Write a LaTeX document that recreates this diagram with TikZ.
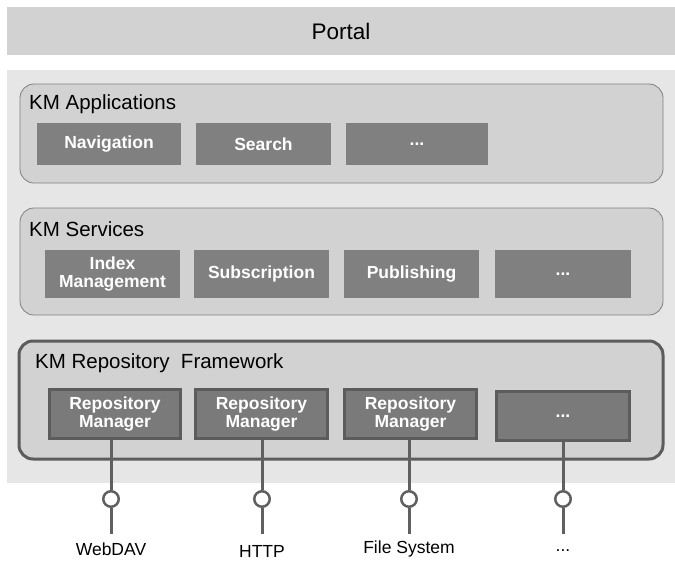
\documentclass[tikz,border=0pt]{standalone}
\usepackage{fontspec}
\setmainfont{Liberation Sans}
\setsansfont{Liberation Sans}
\usetikzlibrary{shapes.geometric}
\definecolor{portalgray}{HTML}{D2D2D2}
\definecolor{panelgray}{HTML}{E6E6E6}
\definecolor{layergray}{HTML}{D2D2D2}
\definecolor{layerline}{HTML}{808080}
\definecolor{boxgray}{HTML}{808080}
\definecolor{rmgray}{HTML}{7A7A7A}
\definecolor{rmline}{HTML}{5C5C5C}
\definecolor{wire}{HTML}{606060}
\tikzset{
  layer/.style={draw=layerline, fill=layergray, line width=0.8pt, rounded corners=14pt},
  framelayer/.style={draw=rmline, fill=layergray, line width=3pt, rounded corners=14pt},
  layertitle/.style={anchor=west, font=\fontsize{20.5}{23}\selectfont, inner sep=0pt},
  compbox/.style={fill=boxgray, text=white, font=\bfseries\fontsize{17.5}{18.5}\selectfont,
    align=center, inner sep=0pt, minimum height=42pt},
  rmbox/.style={fill=rmgray, draw=rmline, line width=3pt, text=white,
    font=\bfseries\fontsize{17.5}{18}\selectfont, align=center, inner sep=0pt,
    minimum height=49pt},
  socket/.style={ellipse, draw=wire, fill=white, line width=2.5pt, minimum width=15.5pt,
    minimum height=15.5pt, inner sep=0pt},
  wireline/.style={draw=wire, line width=3pt},
  protolabel/.style={font=\fontsize{17.5}{19}\selectfont, inner sep=0pt}
}
\begin{document}
\begin{tikzpicture}[x=1pt,y=-1pt]
\useasboundingbox (0,0) rectangle (675,560);
\fill[white] (0,0) rectangle (675,560);

% portal bar and container panel
\node[fill=portalgray, minimum width=668pt, minimum height=48pt, inner sep=0pt,
  font=\fontsize{22.5}{24}\selectfont] (portal) at (341,31) {Portal};
\fill[panelgray] (7,70) rectangle (675,483);

% KM Applications layer
\draw[layer] (20,84) rectangle (663,183);
\node[layertitle] (apptitle) at (29,104) {KM Applications};
\node[compbox, minimum width=144pt] (nav) at (109,144) {Navigation};
\node[compbox, minimum width=135pt] (search) at (263.5,144) {Search};
\node[compbox, minimum width=142pt] (appmore) at (417,144) {...};

% KM Services layer
\draw[layer] (20,208) rectangle (663,315);
\node[layertitle] (svctitle) at (29,229) {KM Services};
\node[compbox, minimum width=135pt, minimum height=48pt] (index) at (112.5,274) {Index\\[-1pt]Management};
\node[compbox, minimum width=135pt, minimum height=48pt] (subs) at (261.5,274) {Subscription};
\node[compbox, minimum width=135pt, minimum height=48pt] (pub) at (411.5,274) {Publishing};
\node[compbox, minimum width=136pt, minimum height=48pt] (svcmore) at (563,274) {...};

% KM Repository Framework layer
\draw[framelayer] (19,341) rectangle (663,459);
\node[layertitle] (reptitle) at (35,363) {KM Repository\ \ Framework};
\node[rmbox, minimum width=131pt] (rm1) at (115,414) {Repository\\Manager};
\node[rmbox, minimum width=132pt] (rm2) at (261.5,414) {Repository\\Manager};
\node[rmbox, minimum width=132pt] (rm3) at (410.5,414) {Repository\\Manager};
\node[rmbox, minimum width=133pt] (rm4) at (563,416) {...};

% protocol sockets
\node[socket] (s1) at (111,499) {};
\node[socket] (s2) at (262,499) {};
\node[socket] (s3) at (409,499) {};
\node[socket] (s4) at (563,499) {};
\coordinate (e1) at (111,534);
\coordinate (e2) at (262,534);
\coordinate (e3) at (409,534);
\coordinate (e4) at (563,534);

\foreach \i in {1,2,3,4}{
  \draw[wireline] (s\i |- rm\i.south) -- (s\i.north);
  \draw[wireline] (s\i.south) -- (e\i);
}

\node[protolabel] (l1) at (111,549) {WebDAV};
\node[protolabel] (l2) at (262,551) {HTTP};
\node[protolabel] (l3) at (409,549) {File System};
\node[protolabel] (l4) at (563,551) {...};
\end{tikzpicture}
\end{document}
